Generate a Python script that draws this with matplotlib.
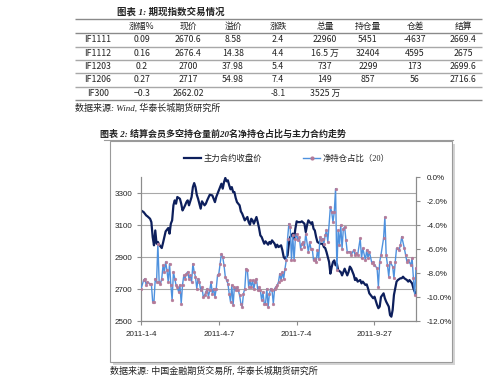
import matplotlib
matplotlib.use('Agg')
import matplotlib.pyplot as plt
from matplotlib.patches import Rectangle
from matplotlib.lines import Line2D
from matplotlib.font_manager import FontProperties

plt.rcParams['font.family'] = ['Liberation Sans', 'Noto Sans CJK SC']

# ---------------- Table 1 data ----------------
table_title = '图表 1: 期现指数交易情况'
table_source = '数据来源: Wind, 华泰长城期货研究所'
headers = ['', '涨幅%', '现价', '溢价', '涨跌', '总量', '持仓量', '仓差', '结算']
contracts = ['IF1111', 'IF1112', 'IF1203', 'IF1206', 'IF300']
chg_pct = ['0.09', '0.16', '0.2', '0.27', '−0.3']
price = ['2670.6', '2676.4', '2700', '2717', '2662.02']
premium = ['8.58', '14.38', '37.98', '54.98', '']
change = ['2.4', '4.4', '5.4', '7.4', '-8.1']
volume = ['22960', '16.5 万', '737', '149', '3525 万']
open_int = ['5451', '32404', '2299', '857', '']
oi_change = ['-4637', '4595', '173', '56', '']
settle = ['2669.4', '2675', '2699.6', '2716.6', '']

# ---------------- Chart 2 data ----------------
chart_title = '图表 2: 结算会员多空持仓量前20名净持仓占比与主力合约走势'
chart_source = '数据来源: 中国金融期货交易所, 华泰长城期货研究所'
series_names = ['主力合约收盘价', '净持仓占比（20）']
x_tick_idx = [0, 60, 120, 180]
x_tick_labels = ['2011-1-4', '2011-4-7', '2011-7-4', '2011-9-27']

# main contract close (trading-day index, price)
close_idx = [0, 2, 4, 5, 7, 8, 9, 10, 11, 12, 13, 14, 16, 17, 18, 19, 21, 22, 23, 24,
             25, 26, 27, 28, 30, 31, 32, 33, 34, 35, 36, 37, 39, 40, 41, 42, 43, 44, 45, 46,
             47, 49, 50, 51, 53, 55, 56, 57, 58, 60, 61, 62, 63, 64, 65, 66, 67, 68, 69, 70,
             71, 72, 73, 74, 76, 77, 78, 80, 81, 82, 83, 84, 85, 86, 87, 89, 90, 91, 92, 93,
             94, 95, 96, 98, 99, 100, 101, 103, 104, 105, 106, 108, 109, 110, 111, 113, 114, 115, 117, 118,
             119, 120, 121, 123, 124, 126, 127, 128, 129, 131, 132, 133, 134, 135, 136, 137, 138, 140, 141, 142,
             143, 145, 146, 147, 148, 149, 150, 151, 152, 154, 155, 156, 157, 159, 160,
             161, 162, 164, 165, 166, 167, 169, 170, 171, 173, 174, 175, 176, 178, 179, 180, 182, 183, 184, 185,
             187, 188, 189, 191, 192, 193, 194, 195, 196, 197, 198, 200, 201, 202, 203, 205, 206, 207, 209, 210,
             211, 212]
close_val = [3191, 3181, 3160, 3154, 3139, 3118, 3025, 2973, 3066, 2983, 2994, 2977, 2956, 2989, 3025, 3060, 3081, 3046, 3108, 3129,
             3223, 3254, 3233, 3275, 3264, 3233, 3191, 3206, 3223, 3243, 3254, 3223, 3275, 3337, 3362, 3337, 3289, 3264, 3233, 3202,
             3248, 3223, 3233, 3254, 3289, 3285, 3264, 3243, 3275, 3316, 3337, 3358, 3327, 3368, 3394, 3373, 3379, 3348, 3323, 3337,
             3306, 3306, 3269, 3243, 3223, 3185, 3171, 3129, 3139, 3150, 3118, 3102, 3139, 3129, 3108, 3150, 3118, 3081, 3035, 3025,
             3004, 2983, 2998, 2977, 2994, 2983, 3004, 2983, 2960, 2977, 2962, 2973, 2942, 2900, 2889, 2910, 2983, 3025, 3046, 3014,
             3077, 3123, 3118, 3118, 3123, 3108, 3056, 3098, 3129, 3108, 3118, 3077, 3066, 3025, 2994, 2989, 2983, 2983, 2962, 2956,
             2931, 2869, 2796, 2837, 2869, 2879, 2848, 2858, 2817, 2806, 2785, 2806, 2827, 2785, 2806,
             2840, 2829, 2788, 2756, 2767, 2746, 2756, 2735, 2746, 2725, 2729, 2704, 2673, 2652, 2642, 2652, 2600, 2580, 2590, 2650,
             2673, 2642, 2621, 2590, 2537, 2527, 2569, 2663, 2704, 2746, 2756, 2767, 2767, 2777, 2767, 2756, 2746, 2756, 2735, 2704,
             2683, 2673]

# net position ratio of top 20 members (trading-day index, %)
ratio_idx = [0, 2, 3, 4, 5, 7, 8, 9, 10, 11, 12, 13, 14, 15, 16, 17, 18, 19, 20, 21,
             22, 23, 24, 25, 26, 27, 28, 29, 30, 31, 32, 33, 34, 35, 36, 37, 38, 39, 40, 41,
             42, 43, 44, 45, 46, 47, 48, 49, 50, 51, 52, 53, 54, 55, 56, 57, 58, 59, 60, 61,
             62, 63, 64, 65, 66, 67, 68, 69, 70, 71, 72, 73, 74, 75, 76, 77, 78, 79, 80, 81,
             82, 83, 84, 85, 86, 87, 88, 89, 90, 91, 92, 93, 94, 95, 96, 97, 98, 99, 100, 101,
             102, 103, 104, 105, 106, 107, 108, 109, 110, 111, 112, 113, 114, 115, 116, 117, 118, 119, 120, 121,
             122, 123, 124, 125, 126, 127, 129, 130, 131, 132, 133, 134, 135, 136, 137, 138, 139, 140, 141, 142,
             143, 144, 146, 147, 148, 149, 150, 151, 152, 153, 154, 155, 156, 157, 158, 159,
             161, 162, 164, 165, 166, 167, 169, 170, 171, 173, 174, 175, 176, 178, 179, 180, 182, 183, 184, 185,
             187, 188, 189, 190, 191, 192, 194, 195, 196, 197, 199, 200, 201, 203, 204, 205, 206, 208, 209, 210,
             211, 212]
ratio_val = [-9.36, -8.6, -8.47, -9.0, -8.75, -8.9, -8.9, -10.4, -10.4, -8.47, -8.75, -5.55, -8.75, -8.9, -8.47, -7.36, -7.9, -7.08, -7.77, -8.75,
             -7.22, -9.0, -10.27, -7.91, -8.47, -9.0, -9.16, -9.58, -9.0, -10.55, -9.0, -8.19, -8.47, -8.05, -7.91, -8.47, -8.19, -8.75, -7.22, -7.91,
             -8.33, -9.3, -8.47, -8.75, -9.44, -9.16, -9.99, -9.86, -9.58, -9.3, -9.99, -9.44, -8.75, -9.72, -9.3, -9.99, -9.3, -8.19, -8.05, -7.22,
             -6.39, -6.66, -7.36, -8.33, -8.61, -8.89, -9.72, -10.41, -9.02, -10.69, -9.16, -9.44, -9.16, -9.44, -9.86, -10.55, -10.83, -9.72, -9.3, -7.64,
             -7.77, -9.16, -8.61, -9.16, -8.61, -9.3, -8.75, -8.47, -9.44, -9.16, -9.44, -10.27, -9.58, -10.55, -10.55, -9.3, -10.83, -9.72, -9.3, -9.44,
             -10.55, -9.3, -9.16, -9.02, -8.75, -8.05, -8.61, -7.91, -8.47, -7.64, -6.94, -5.14, -3.89, -4.16, -6.94, -4.86, -6.94, -5.14, -4.72, -5.27,
             -5.0, -5.97, -5.55, -5.41, -5.83, -4.72, -6.25, -5.41, -5.97, -5.97, -6.94, -6.8, -7.08, -6.11, -6.8, -5.0, -5.27, -5.14, -5.55, -4.86,
             -4.44, -5.41, -2.5, -2.91, -3.75, -2.91, -0.97, -7.77, -4.44, -5.69, -4.02, -5.97, -4.3, -4.16, -5.27, -6.25,
             -6.22, -6.5, -6.08, -6.5, -6.36, -6.5, -5.11, -6.77, -5.94, -6.91, -6.08, -6.77, -6.22, -7.19, -7.05, -7.33, -7.61, -9.14, -7.05, -6.5,
             -5.11, -3.33, -6.5, -7.33, -8.3, -7.05, -7.47, -8.44, -7.05, -5.94, -6.08, -5.66, -4.97, -5.94, -6.5, -7.05, -6.91, -7.33, -6.77, -8.44,
             -9.83, -7.61]

left_ticks = [2500, 2700, 2900, 3100, 3300]
right_ticks = [-12, -10, -8, -6, -4, -2, 0]

NAVY = '#0d1f5c'
BLUE = '#4e91de'
MARK = '#b47a98'
GRID = '#a8a8a8'
TXT = '#222222'

cjk_serif = ['Liberation Serif', 'Noto Sans CJK SC']
cjk_table = ['Noto Sans CJK SC', 'Liberation Serif']

fig = plt.figure(figsize=(5, 3.84), dpi=100)

# full-figure layout layer (pixel coordinates)
lay = fig.add_axes([0, 0, 1, 1])
lay.set_xlim(0, 500)
lay.set_ylim(384, 0)
lay.axis('off')

BASE = 2.5  # baseline offset from row centre, px

# ---- Table 1 ----
lay.text(117, 12.7 + BASE, table_title, family=cjk_serif, weight='bold', style='italic',
         fontsize=6.8, color=TXT, ha='left', va='baseline')
col_x = [98, 142, 188, 233, 278, 325, 368, 415, 463]
row_y = [26, 40, 53.3, 66.7, 80, 93.3]
line_y = [19.3, 33.3, 46.7, 60, 73.3, 86.7, 100]
for i, ly in enumerate(line_y):
    lay.plot([75, 482], [ly, ly], color='#8a8a8a' if i in (0, 1, 6) else '#a8a8a8',
             lw=1.0, solid_capstyle='butt')
for cx, h in zip(col_x, headers):
    lay.text(cx, row_y[0] + BASE, h, family=cjk_table, fontsize=6.3, color=TXT,
             ha='center', va='baseline')
columns = [contracts, chg_pct, price, premium, change, volume, open_int, oi_change, settle]
for cx, col in zip(col_x, columns):
    for ry, val in zip(row_y[1:], col):
        lay.text(cx, ry + BASE, val, family=cjk_table, fontsize=6.3, color=TXT,
                 ha='center', va='baseline')
lay.text(75, 108 + BASE, table_source, family=cjk_serif, style='italic', fontsize=6.5,
         color=TXT, ha='left', va='baseline')

# ---- Chart 2 frame ----
lay.text(100, 134 + BASE, chart_title, family=cjk_serif, weight='bold', style='italic',
         fontsize=6.5, color=TXT, ha='left', va='baseline')
lay.add_patch(Rectangle((112.5, 143.5), 342, 221, facecolor='#d4d4d4', edgecolor='none', zorder=1))
lay.add_patch(Rectangle((110, 141), 342, 221, facecolor='white', edgecolor='#9a9a9a', lw=0.8, zorder=2))
lay.plot([104, 453], [140.3, 140.3], color='#9a9a9a', lw=0.8, zorder=3)
lay.text(110, 371 + BASE, chart_source, family=cjk_serif, style='italic', fontsize=6.5,
         color=TXT, ha='left', va='baseline')

# ---- chart axes ----
ax = fig.add_axes([141 / 500, 63 / 384, 275 / 500, 144 / 384])
ax.set_facecolor('none')
ax.set_xlim(0, 212)
ax.set_ylim(2500, 3400)
ax.set_yticks(left_ticks)
ax.set_yticklabels([str(v) for v in left_ticks])
ax.set_xticks(x_tick_idx)
ax.set_xticklabels(x_tick_labels)
ax.grid(axis='y', color=GRID, lw=0.8)
ax.set_axisbelow(True)
ax.plot(close_idx, close_val, color=NAVY, lw=1.6, zorder=3)

ax2 = ax.twinx()
ax2.set_ylim(-12, 0)
ax2.set_yticks(right_ticks)
ax2.set_yticklabels(['%.1f%%' % v for v in right_ticks])
ax2.plot(ratio_idx, ratio_val, color=BLUE, lw=1.0, marker='o', ms=2.0,
         mfc=MARK, mec=MARK, mew=0.3, zorder=4)

for a in (ax, ax2):
    a.spines['top'].set_visible(False)
    for s in ('left', 'right', 'bottom'):
        a.spines[s].set_color('#8c8c8c')
        a.spines[s].set_linewidth(0.8)
ax.tick_params(axis='y', direction='out', length=3, width=0.8, color='#8c8c8c',
               labelsize=5.8, labelcolor=TXT, pad=3)
ax.tick_params(axis='x', direction='out', length=3, width=0.8, color='#8c8c8c',
               labelsize=5.8, labelcolor=TXT, pad=4)
ax2.tick_params(axis='y', direction='out', length=3, width=0.8, color='#8c8c8c',
                labelsize=5.8, labelcolor=TXT, pad=5)

handles = [Line2D([], [], color=NAVY, lw=1.6),
           Line2D([], [], color=BLUE, lw=1.0, marker='o', ms=2.0, mfc=MARK, mec=MARK)]
ax2.legend(handles, series_names, loc='center', bbox_to_anchor=(0.53, 1.125), ncol=2,
           frameon=False, prop=FontProperties(family=cjk_serif, size=6),
           handlelength=2.0, handletextpad=0.3, columnspacing=5.0, numpoints=1,
           labelcolor=TXT)

fig.savefig('out.png', dpi=100)
